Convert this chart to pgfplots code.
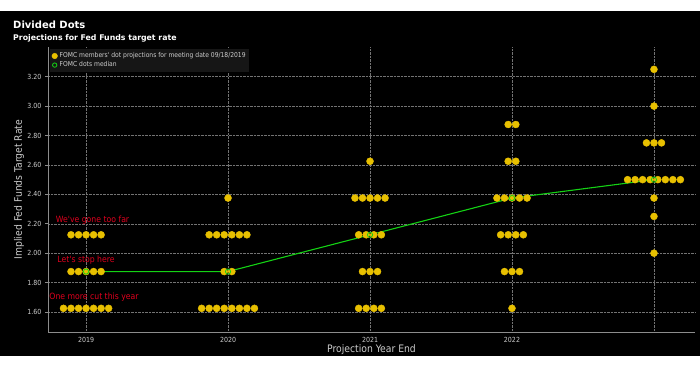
\documentclass[border=0pt]{standalone}
\usepackage{fontspec}
\setmainfont{DejaVu Sans}
\newfontfamily\condfont{DejaVu Sans Condensed}
\usepackage{pgfplots}
\pgfplotsset{compat=1.18}
\definecolor{dotyellow}{RGB}{232,192,0}
\definecolor{medgreen}{RGB}{20,210,20}
\definecolor{axisgray}{RGB}{140,140,140}
\definecolor{gridgray}{RGB}{115,115,115}
\definecolor{labelgray}{RGB}{205,205,205}
\definecolor{legendbg}{RGB}{22,22,22}
\definecolor{annred}{RGB}{225,0,30}
\begin{document}
\begin{tikzpicture}[x=1pt,y=1pt]
\path[use as bounding box] (0,0) rectangle (700,369);
\fill[black] (0,13) rectangle (700,358);
\node[anchor=base west, text=white, inner sep=0, font=\bfseries\fontsize{10}{12}\selectfont] at (13,340) {Divided Dots};
\node[anchor=base west, text=white, inner sep=0, font=\bfseries\fontsize{7.8}{9}\selectfont] at (13,328) {Projections for Fed Funds target rate};
\begin{axis}[
  at={(48pt,37pt)}, anchor=south west, scale only axis,
  width=647pt, height=285pt,
  xmin=-0.268, xmax=4.289, ymin=1.464, ymax=3.402,
  axis x line*=bottom, axis y line*=left,
  axis line style={draw=axisgray, line width=1pt, -},
  xtick={0,1,2,3,4}, xticklabels={2019,2020,2021,2022,{}},
  ytick={1.6,1.8,2.0,2.2,2.4,2.6,2.8,3.0,3.2},
  /pgf/number format/assume math mode=true,
  yticklabel style={/pgf/number format/.cd, fixed, fixed zerofill, precision=2, /tikz/.cd},
  ticklabel style={text=labelgray, font=\condfont\fontsize{7}{8}\selectfont},
  xticklabel style={yshift=1pt},
  tick align=outside, major tick length=3pt,
  xtick style={draw=none}, ytick style={draw=axisgray, line width=0.8pt},
  grid=major, major grid style={densely dotted, draw=gridgray, line width=0.5pt},
  xlabel={Projection Year End}, ylabel={Implied Fed Funds Target Rate},
  every axis x label/.style={at={(axis description cs:0.5,0)}, anchor=center, yshift=-17.5pt,
    text=labelgray, font=\condfont\fontsize{10.3}{11}\selectfont},
  every axis y label/.style={at={(axis description cs:0,0.5)}, xshift=-29pt, rotate=90, anchor=center,
    text=labelgray, font=\condfont\fontsize{10.3}{11}\selectfont},
  legend style={at={(axis description cs:0,1)}, anchor=north west, xshift=2pt, yshift=-2pt,
    fill=legendbg, draw=none, text=labelgray, font=\condfont\fontsize{6.7}{7.5}\selectfont,
    row sep=-1.5pt, inner sep=1.5pt},
  legend cell align=left,
  clip=false,
]
\addplot[medgreen, line width=1.1pt, forget plot] coordinates {(0,1.875)(1,1.875)(2,2.125)(3,2.375)(4,2.5)};
\addplot[only marks, mark=*, mark size=3.5pt, color=dotyellow,
  legend image code/.code={\draw[fill=dotyellow,draw=dotyellow] (0.1cm,0cm) circle (2.8pt);}]
coordinates {
(-0.106,2.125)(-0.053,2.125)(0,2.125)(0.053,2.125)(0.106,2.125)
(-0.106,1.875)(-0.053,1.875)(0,1.875)(0.053,1.875)(0.106,1.875)
(-0.159,1.625)(-0.106,1.625)(-0.053,1.625)(0,1.625)(0.053,1.625)(0.106,1.625)(0.159,1.625)
(1,2.375)
(0.867,2.125)(0.920,2.125)(0.973,2.125)(1.027,2.125)(1.080,2.125)(1.133,2.125)
(0.973,1.875)(1.027,1.875)
(0.814,1.625)(0.867,1.625)(0.920,1.625)(0.973,1.625)(1.027,1.625)(1.080,1.625)(1.133,1.625)(1.186,1.625)
(2,2.625)
(1.894,2.375)(1.947,2.375)(2,2.375)(2.053,2.375)(2.106,2.375)
(1.920,2.125)(1.973,2.125)(2.027,2.125)(2.080,2.125)
(1.947,1.875)(2,1.875)(2.053,1.875)
(1.920,1.625)(1.973,1.625)(2.027,1.625)(2.080,1.625)
(2.973,2.875)(3.027,2.875)
(2.973,2.625)(3.027,2.625)
(2.894,2.375)(2.947,2.375)(3,2.375)(3.053,2.375)(3.106,2.375)
(2.920,2.125)(2.973,2.125)(3.027,2.125)(3.080,2.125)
(2.947,1.875)(3,1.875)(3.053,1.875)
(3,1.625)
(4,3.25)
(4,3.0)
(3.947,2.75)(4,2.75)(4.053,2.75)
(3.814,2.5)(3.867,2.5)(3.920,2.5)(3.973,2.5)(4.027,2.5)(4.080,2.5)(4.133,2.5)(4.186,2.5)
(4,2.375)
(4,2.25)
(4,2.0)
};
\addlegendentry{FOMC members' dot projections for meeting date 09/18/2019}
\addplot[only marks, mark=o, mark size=2.6pt, color=medgreen, mark options={line width=0.8pt},
  legend image code/.code={\draw[draw=medgreen,line width=0.8pt] (0.1cm,0cm) circle (2.2pt);}]
coordinates {(0,1.875)(1,1.875)(2,2.125)(3,2.375)(4,2.5)};
\addlegendentry{FOMC dots median}
\node[text=annred, font=\condfont\fontsize{8.6}{9}\selectfont, inner sep=0] at (axis cs:0.046,2.227) {We've gone too far};
\node[text=annred, font=\condfont\fontsize{8.6}{9}\selectfont, inner sep=0] at (axis cs:0.0,1.95) {Let's stop here};
\node[text=annred, font=\condfont\fontsize{8.6}{9}\selectfont, inner sep=0] at (axis cs:0.056,1.704) {One more cut this year};
\end{axis}
\end{tikzpicture}
\end{document}
